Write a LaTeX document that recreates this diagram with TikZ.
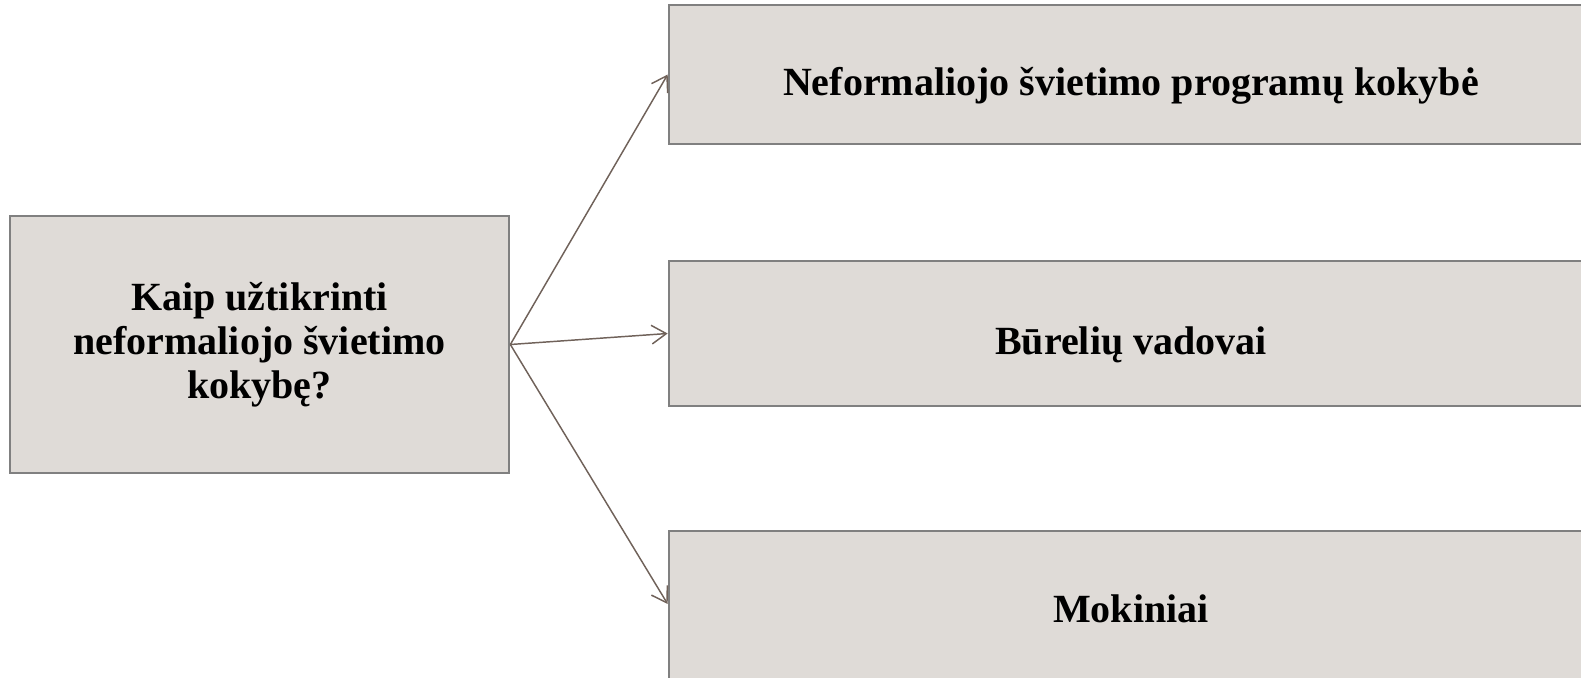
\documentclass[tikz,border=0pt]{standalone}
\usepackage{fontspec}
\setmainfont{Liberation Serif}
\usepackage{xcolor}
\usetikzlibrary{arrows.meta}
\definecolor{boxfill}{RGB}{223,219,215}
\definecolor{boxline}{RGB}{128,128,128}
\definecolor{arrowline}{RGB}{112,98,90}

\begin{document}
\begin{tikzpicture}[x=0.75pt, y=-0.75pt,
    every node/.style={font=\bfseries\fontsize{30}{33}\selectfont},
    greybox/.style={fill=boxfill, draw=boxline, line width=2pt, inner sep=0pt},
    answer/.style={greybox, minimum width=693pt, text height=32pt, text depth=0pt},
    link/.style={draw=arrowline, line width=1.1pt, -{Straight Barb[length=11pt,width=14pt]}}]
	\clip (0,0) rectangle (1581,678);%
	\node[greybox, minimum width=374.25pt, minimum height=192.75pt, align=center] (question) at (259.5,344.5) {Kaip užtikrinti\\neformaliojo švietimo\\kokybę?};%
	\node[answer, minimum height=104.25pt] (programs) at (1131,74.5) {Neformaliojo švietimo programų kokybė};%
	\node[answer, minimum height=108.75pt] (leaders) at (1131,333.5) {Būrelių vadovai};%
	\node[answer, minimum height=127.5pt, text height=20pt, text depth=11pt] (pupils) at (1131,616) {Mokiniai};%
	\draw[link] (question.east) -- (programs.west);%
	\draw[link] (question.east) -- (leaders.west);%
	\draw[link] (question.east) -- ([yshift=9pt]pupils.west);%
\end{tikzpicture}
\end{document}
